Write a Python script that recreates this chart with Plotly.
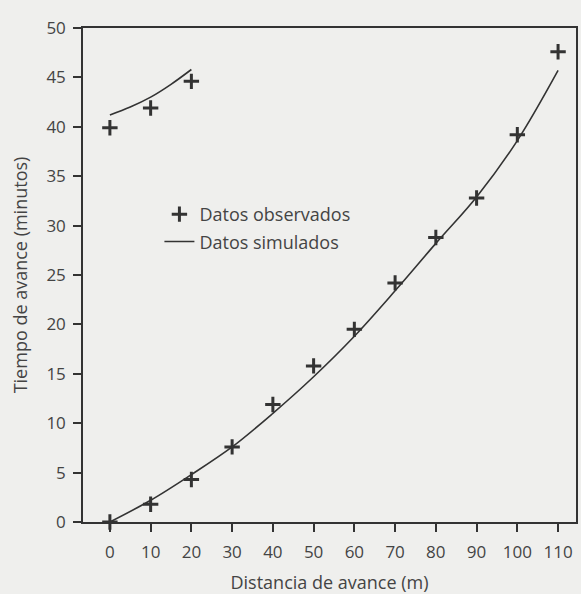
import plotly.graph_objects as go

# Observed data (lower series)
dist_obs = [0, 10, 20, 30, 40, 50, 60, 70, 80, 90, 100, 110]
time_obs = [0, 1.8, 4.3, 7.6, 11.9, 15.8, 19.5, 24.2, 28.8, 32.8, 39.2, 47.6]
# Observed data (upper series)
dist_obs_up = [0, 10, 20]
time_obs_up = [39.9, 41.9, 44.6]

# Simulated curves
dist_sim = [0, 10, 20, 30, 40, 50, 60, 70, 80, 90, 100, 110]
time_sim = [0, 2.2, 4.8, 7.6, 11.0, 14.7, 18.8, 23.4, 28.2, 32.9, 38.6, 45.7]
dist_sim_up = [0, 5, 10, 15, 20]
time_sim_up = [41.2, 42.0, 43.0, 44.3, 45.8]

x_ticks = [0, 10, 20, 30, 40, 50, 60, 70, 80, 90, 100, 110]
y_ticks = [0, 5, 10, 15, 20, 25, 30, 35, 40, 45, 50]

ink = "#333333"
txt = "#444444"
bg = "#efefed"
font_family = "'Open Sans', sans-serif"

fig = go.Figure()
fig.add_trace(go.Scatter(
    x=dist_obs, y=time_obs, mode="markers", name="Datos observados",
    legendgroup="a",
    marker=dict(symbol="cross-thin-open", size=11, line=dict(width=3, color=ink), color=ink),
    cliponaxis=False,
))
fig.add_trace(go.Scatter(
    x=dist_sim, y=time_sim, mode="lines", name="Datos simulados",
    legendgroup="b",
    line=dict(color=ink, width=1.6, shape="spline"),
))
fig.add_trace(go.Scatter(
    x=dist_obs_up, y=time_obs_up, mode="markers", showlegend=False,
    marker=dict(symbol="cross-thin-open", size=11, line=dict(width=3, color=ink), color=ink),
))
fig.add_trace(go.Scatter(
    x=dist_sim_up, y=time_sim_up, mode="lines", showlegend=False,
    line=dict(color=ink, width=1.6, shape="spline"),
))

fig.update_layout(
    width=581, height=594,
    margin=dict(l=83, r=3, t=28, b=72),
    paper_bgcolor=bg, plot_bgcolor=bg,
    font=dict(family=font_family, size=17, color=txt),
    showlegend=True,
    legend=dict(x=0.155, y=0.66, xanchor="left", yanchor="top",
                bgcolor="rgba(0,0,0,0)", font=dict(size=18, color=txt),
                traceorder="grouped", tracegroupgap=1, itemwidth=30),
    xaxis=dict(
        range=[-6.6, 114.4], tickvals=x_ticks, ticks="outside", ticklen=8,
        tickwidth=1.5, tickcolor=ink, showline=True, linecolor=ink, linewidth=1.5,
        mirror=True, showgrid=False, zeroline=False,
        tickfont=dict(size=17), ticklabelstandoff=6,
        title=dict(text="Distancia de avance (m)", font=dict(size=18), standoff=14),
    ),
    yaxis=dict(
        range=[0, 50], tickvals=y_ticks, ticks="outside", ticklen=8,
        tickwidth=1.5, tickcolor=ink, showline=True, linecolor=ink, linewidth=1.5,
        mirror=True, showgrid=False, zeroline=False,
        tickfont=dict(size=17), ticklabelstandoff=4,
        title=dict(text="Tiempo de avance (minutos)", font=dict(size=18), standoff=14),
    ),
)

fig.write_html(
    "out.html",
    config={"displayModeBar": False},
    post_script="document.body.style.margin='0';document.body.style.overflow='hidden';",
)
